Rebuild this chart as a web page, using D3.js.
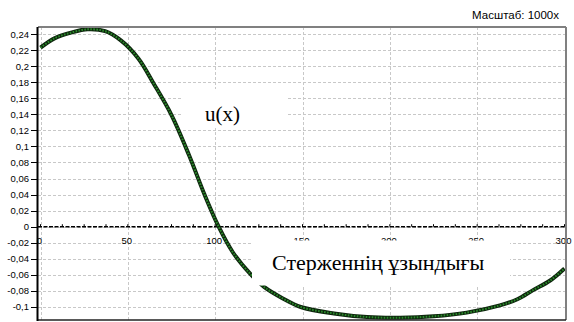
<!DOCTYPE html>
<html><head><meta charset="utf-8">
<script src="https://cdn.jsdelivr.net/npm/d3@7"></script>
<style>html,body{margin:0;padding:0;background:#fff;}svg{display:block;}</style>
</head><body>
<svg id="c" width="574" height="322"></svg>
<script>
// data
const xs = [0, 8, 18, 27, 37, 46, 56, 65, 75, 85, 94, 102, 110, 120, 128, 139, 149, 168, 187, 206, 225, 244, 263, 273, 282, 292, 300];
const us = [0.223, 0.2346, 0.242, 0.2458, 0.2435, 0.232, 0.2095, 0.1775, 0.139, 0.0893, 0.0395, 0, -0.0315, -0.0585, -0.075, -0.0897, -0.100, -0.108, -0.1125, -0.1133, -0.1116, -0.107, -0.098, -0.0904, -0.079, -0.0667, -0.052];
const yTicks = [0.24, 0.22, 0.2, 0.18, 0.16, 0.14, 0.12, 0.1, 0.08, 0.06, 0.04, 0.02, 0, -0.02, -0.04, -0.06, -0.08, -0.1];
const xTicks = [0, 50, 100, 150, 200, 250, 300];
const seriesLabel = "u(x)";
const axisLabel = "Стерженнің ұзындығы";
const scaleLabel = "Масштаб: 1000x";

const svg = d3.select("#c");
const L = 38, R = 566, T = 27, B = 320;
const x = d3.scaleLinear().domain([0, 300]).range([40.5, 564.5]);
const y = d3.scaleLinear().domain([0, 0.24]).range([226.7, 34]);
const fmt = v => (v === 0 ? "0" : String(+v.toFixed(2)).replace(".", ","));

// grid
const g = svg.append("g");
g.selectAll("line.h").data(yTicks).join("line")
  .attr("x1", L).attr("x2", R)
  .attr("y1", d => Math.round(y(d)) + 0.5).attr("y2", d => Math.round(y(d)) + 0.5)
  .attr("stroke", "#c8c8c8").attr("stroke-dasharray", "3,2");
g.selectAll("line.v").data(xTicks).join("line")
  .attr("y1", T).attr("y2", B)
  .attr("x1", d => Math.round(x(d)) + 0.5).attr("x2", d => Math.round(x(d)) + 0.5)
  .attr("stroke", "#c8c8c8").attr("stroke-dasharray", "3,2");

// x tick labels (sit just under zero line)
svg.append("g").selectAll("text").data(xTicks).join("text")
  .attr("x", d => x(d) - 1).attr("y", 244)
  .attr("text-anchor", "middle")
  .attr("font-family", "Liberation Sans, Arial, sans-serif").attr("font-size", 9.5)
  .attr("fill", "#000").text(d => d);

// y axis ticks and labels
const ya = svg.append("g");
ya.selectAll("line").data(yTicks).join("line")
  .attr("x1", 31).attr("x2", L)
  .attr("y1", d => Math.round(y(d)) + 0.5).attr("y2", d => Math.round(y(d)) + 0.5)
  .attr("stroke", "#000");
ya.selectAll("text").data(yTicks).join("text")
  .attr("x", 29).attr("y", d => y(d) + 3.5)
  .attr("text-anchor", "end")
  .attr("font-family", "Liberation Sans, Arial, sans-serif").attr("font-size", 9.5)
  .attr("fill", "#000").text(fmt);

// zero line with minor ticks
svg.append("line").attr("x1", L).attr("x2", R)
  .attr("y1", y(0)).attr("y2", y(0))
  .attr("stroke", "#000").attr("stroke-width", 1.6).attr("stroke-dasharray", "4,1.5");
svg.append("g").selectAll("line").data(d3.range(0, 301, 12.5)).join("line")
  .attr("x1", d => x(d)).attr("x2", d => x(d))
  .attr("y1", y(0) - 2.5).attr("y2", y(0))
  .attr("stroke", "#000");

// curve
const line = d3.line().x((d, i) => x(xs[i])).y(d => y(d)).curve(d3.curveCatmullRom.alpha(0.5));
svg.append("path").attr("d", line(us)).attr("fill", "none")
  .attr("stroke", "#0d260d").attr("stroke-width", 4).attr("stroke-linejoin", "round");
svg.append("path").attr("d", line(us)).attr("fill", "none")
  .attr("stroke", "#2a8a2a").attr("stroke-width", 2).attr("stroke-dasharray", "1.6,1.4");

// frame
svg.append("line").attr("x1", L).attr("x2", R).attr("y1", T).attr("y2", T).attr("stroke", "#808080").attr("stroke-width", 2);
svg.append("line").attr("x1", R).attr("x2", R).attr("y1", T).attr("y2", B).attr("stroke", "#808080").attr("stroke-width", 2);
svg.append("line").attr("x1", L).attr("x2", R).attr("y1", B).attr("y2", B).attr("stroke", "#222").attr("stroke-width", 1.5);
svg.append("line").attr("x1", L - 0.5).attr("x2", L - 0.5).attr("y1", T).attr("y2", B + 1).attr("stroke", "#000").attr("stroke-width", 2);

// label boxes
svg.append("rect").attr("x", 183).attr("y", 89).attr("width", 103).attr("height", 39).attr("fill", "#fff");
svg.append("text").attr("x", 205).attr("y", 121)
  .attr("font-family", "Liberation Serif, Times New Roman, serif").attr("font-size", 21)
  .attr("fill", "#000").text(seriesLabel);

svg.append("rect").attr("x", 252).attr("y", 240.5).attr("width", 258).attr("height", 45).attr("fill", "#fff");
svg.append("text").attr("x", 272).attr("y", 270)
  .attr("font-family", "Liberation Serif, Times New Roman, serif").attr("font-size", 22)
  .attr("fill", "#000").text(axisLabel);

// scale note
svg.append("text").attr("x", 559).attr("y", 19)
  .attr("text-anchor", "end")
  .attr("font-family", "Liberation Sans, Arial, sans-serif").attr("font-size", 11.5)
  .attr("fill", "#000").text(scaleLabel);
</script>
</body></html>
